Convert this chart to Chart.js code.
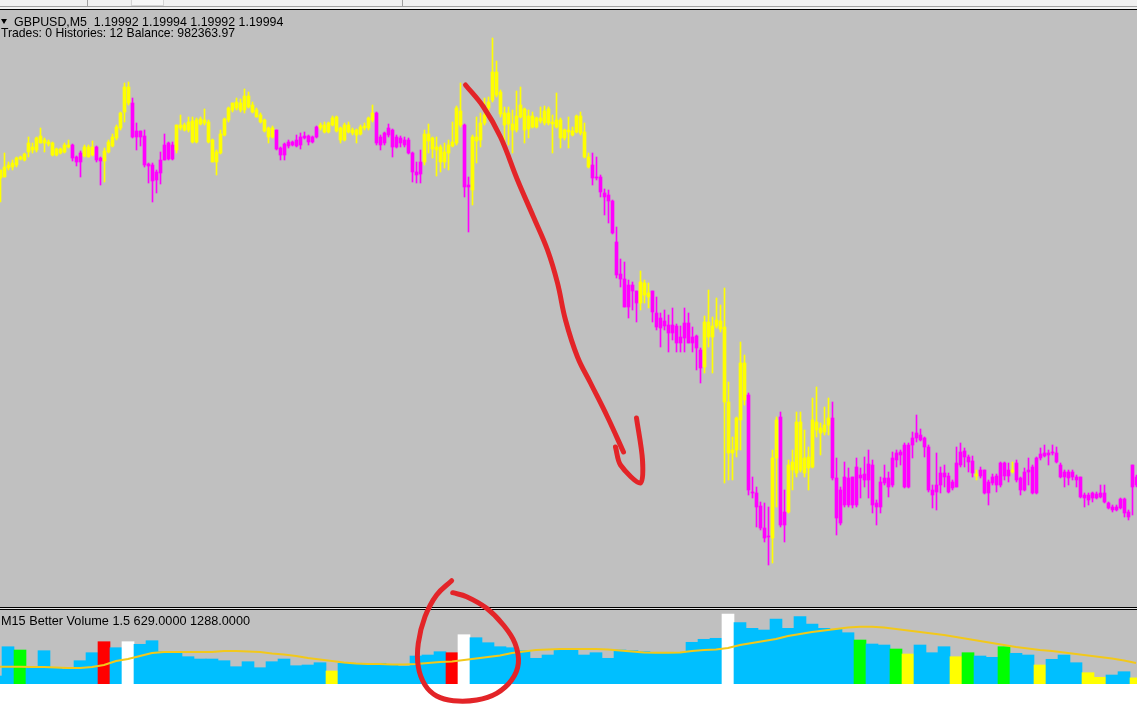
<!DOCTYPE html>
<html>
<head>
<meta charset="utf-8">
<script src="https://cdn.jsdelivr.net/npm/chart.js@4.4.1/dist/chart.umd.min.js"></script>
<style>
  body { margin: 0; width: 1137px; height: 707px; position: relative; overflow: hidden; background: #fff; }
  .abs { position: absolute; }
  .txt { position: absolute; font-family: "Liberation Sans", Arial, sans-serif; font-size: 12px; line-height: 12px; color: #000; white-space: pre; }
</style>
</head>
<body>
<!-- toolbar remnant -->
<div class="abs" style="left:0;top:0;width:1137px;height:10px;background:#f0f0f0"></div>
<div class="abs" style="left:0;top:6px;width:1137px;height:1px;background:#a0a0a0"></div>
<div class="abs" style="left:87px;top:0;width:1px;height:6px;background:#a0a0a0"></div>
<div class="abs" style="left:402px;top:0;width:1px;height:6px;background:#a0a0a0"></div>
<div class="abs" style="left:131px;top:0;width:31px;height:5px;border:1px solid #d4d4d4;border-top:0;background:#f6f6f6"></div>
<div class="abs" style="left:0;top:9px;width:1137px;height:1px;background:#000"></div>

<div class="abs" style="left:0;top:10px;width:1137px;height:597px;background:#c0c0c0"></div>
<div class="abs" style="left:0;top:607px;width:1137px;height:1px;background:#000"></div>
<div class="abs" style="left:0;top:608px;width:1137px;height:1px;background:#e4e4e4"></div>
<div class="abs" style="left:0;top:609px;width:1137px;height:1px;background:#000"></div>
<div class="abs" style="left:0;top:610px;width:1137px;height:74px;background:#c0c0c0"></div>

<canvas id="price" class="abs" width="1137" height="597" style="left:0;top:10px"></canvas>
<canvas id="vol" class="abs" width="1137" height="132" style="left:0;top:575px"></canvas>

<div class="abs" style="left:1px;top:19px;width:0;height:0;border-left:3px solid transparent;border-right:3px solid transparent;border-top:5px solid #000"></div>
<div class="txt" style="left:14px;top:16px;font-size:12.4px">GBPUSD,M5  1.19992 1.19994 1.19992 1.19994</div>
<div class="txt" style="left:1px;top:27px;font-size:12.2px">Trades: 0 Histories: 12 Balance: 982363.97</div>
<div class="txt" style="left:1px;top:615px;font-size:12.7px">M15 Better Volume 1.5 629.0000 1288.0000</div>

<script>
// GBPUSD M5 candles, index 0 = leftmost visible bar
const opens = [
  1.20604, 1.20606, 1.20624, 1.20626, 1.20630, 1.20642, 1.20640, 1.20656, 1.20660, 1.20660,
  1.20674, 1.20674, 1.20672, 1.20650, 1.20650, 1.20654, 1.20656, 1.20666, 1.20670, 1.20646,
  1.20654, 1.20648, 1.20646, 1.20650, 1.20666, 1.20644, 1.20638, 1.20656, 1.20668, 1.20684,
  1.20704, 1.20736, 1.20754, 1.20754, 1.20698, 1.20698, 1.20688, 1.20632, 1.20630, 1.20616,
  1.20640, 1.20670, 1.20674, 1.20670, 1.20660, 1.20704, 1.20700, 1.20700, 1.20676, 1.20676,
  1.20712, 1.20714, 1.20676, 1.20636, 1.20636, 1.20654, 1.20690, 1.20720, 1.20740, 1.20744,
  1.20740, 1.20740, 1.20746, 1.20736, 1.20726, 1.20716, 1.20698, 1.20686, 1.20686, 1.20700,
  1.20664, 1.20672, 1.20676, 1.20676, 1.20680, 1.20686, 1.20688, 1.20688, 1.20686, 1.20706,
  1.20704, 1.20696, 1.20696, 1.20710, 1.20698, 1.20680, 1.20680, 1.20696, 1.20694, 1.20690,
  1.20692, 1.20704, 1.20704, 1.20720, 1.20734, 1.20686, 1.20694, 1.20704, 1.20700, 1.20686,
  1.20684, 1.20680, 1.20680, 1.20654, 1.20616, 1.20636, 1.20636, 1.20678, 1.20662, 1.20660,
  1.20636, 1.20636, 1.20654, 1.20668, 1.20674, 1.20710, 1.20710, 1.20590, 1.20580, 1.20678,
  1.20680, 1.20714, 1.20744, 1.20760, 1.20770, 1.20732, 1.20710, 1.20712, 1.20700, 1.20700,
  1.20726, 1.20700, 1.20702, 1.20706, 1.20706, 1.20718, 1.20714, 1.20714, 1.20712, 1.20706,
  1.20684, 1.20684, 1.20696, 1.20690, 1.20696, 1.20694, 1.20646, 1.20626, 1.20630, 1.20606,
  1.20606, 1.20574, 1.20570, 1.20558, 1.20476, 1.20412, 1.20402, 1.20390, 1.20390, 1.20378,
  1.20354, 1.20370, 1.20366, 1.20378, 1.20334, 1.20324, 1.20318, 1.20310, 1.20310, 1.20308,
  1.20286, 1.20314, 1.20314, 1.20286, 1.20288, 1.20260, 1.20226, 1.20286, 1.20286, 1.20308,
  1.20302, 1.20156, 1.20054, 1.20054, 1.20060, 1.20120, 1.20160, 1.20170, 1.19976, 1.19974,
  1.19948, 1.19904, 1.19888, 1.19884, 1.20044, 1.20126, 1.19936, 1.19936, 1.20020, 1.20014,
  1.20020, 1.20014, 1.20024, 1.20026, 1.20100, 1.20094, 1.20096, 1.20110, 1.20124, 1.20004,
  1.19980, 1.20006, 1.20004, 1.20006, 1.20026, 1.20010, 1.20012, 1.20032, 1.20030, 1.19954,
  1.19996, 1.20004, 1.20004, 1.20044, 1.20054, 1.20056, 1.20070, 1.20070, 1.20084, 1.20094,
  1.20090, 1.20084, 1.20066, 1.19980, 1.19990, 1.20014, 1.20014, 1.20008, 1.19996, 1.20034,
  1.20056, 1.20058, 1.20046, 1.20038, 1.20008, 1.20020, 1.20020, 1.19996, 1.20006, 1.20008,
  1.20034, 1.20034, 1.20020, 1.20016, 1.20034, 1.20004, 1.20016, 1.20020, 1.20026, 1.20044,
  1.20052, 1.20054, 1.20054, 1.20056, 1.20054, 1.20030, 1.20016, 1.20016, 1.20016, 1.20006,
  1.20006, 1.19970, 1.19970, 1.19974, 1.19972, 1.19974, 1.19974, 1.19954, 1.19946, 1.19946,
  1.19962, 1.19962, 1.19936, 1.20030, 1.20006
];
const highs = [
  1.20620, 1.20654, 1.20636, 1.20640, 1.20646, 1.20648, 1.20654, 1.20686, 1.20674, 1.20686,
  1.20704, 1.20684, 1.20680, 1.20676, 1.20664, 1.20664, 1.20674, 1.20680, 1.20672, 1.20648,
  1.20658, 1.20670, 1.20670, 1.20678, 1.20668, 1.20646, 1.20664, 1.20680, 1.20692, 1.20710,
  1.20736, 1.20794, 1.20796, 1.20764, 1.20714, 1.20698, 1.20700, 1.20634, 1.20634, 1.20620,
  1.20656, 1.20692, 1.20676, 1.20676, 1.20710, 1.20730, 1.20714, 1.20726, 1.20726, 1.20724,
  1.20726, 1.20742, 1.20720, 1.20682, 1.20660, 1.20700, 1.20724, 1.20746, 1.20754, 1.20764,
  1.20762, 1.20782, 1.20776, 1.20756, 1.20744, 1.20734, 1.20722, 1.20706, 1.20708, 1.20700,
  1.20666, 1.20674, 1.20680, 1.20678, 1.20690, 1.20694, 1.20696, 1.20690, 1.20688, 1.20708,
  1.20714, 1.20716, 1.20716, 1.20728, 1.20728, 1.20706, 1.20714, 1.20716, 1.20704, 1.20702,
  1.20710, 1.20714, 1.20726, 1.20750, 1.20736, 1.20690, 1.20696, 1.20712, 1.20702, 1.20690,
  1.20688, 1.20686, 1.20684, 1.20656, 1.20636, 1.20660, 1.20700, 1.20712, 1.20686, 1.20686,
  1.20670, 1.20674, 1.20680, 1.20716, 1.20748, 1.20794, 1.20712, 1.20606, 1.20690, 1.20726,
  1.20734, 1.20764, 1.20766, 1.20884, 1.20838, 1.20780, 1.20746, 1.20746, 1.20740, 1.20778,
  1.20786, 1.20744, 1.20740, 1.20736, 1.20726, 1.20746, 1.20748, 1.20746, 1.20730, 1.20774,
  1.20724, 1.20702, 1.20726, 1.20706, 1.20730, 1.20736, 1.20714, 1.20654, 1.20654, 1.20646,
  1.20610, 1.20582, 1.20580, 1.20560, 1.20506, 1.20442, 1.20436, 1.20400, 1.20396, 1.20378,
  1.20418, 1.20400, 1.20394, 1.20378, 1.20366, 1.20334, 1.20340, 1.20330, 1.20344, 1.20312,
  1.20308, 1.20344, 1.20334, 1.20306, 1.20290, 1.20264, 1.20328, 1.20380, 1.20326, 1.20364,
  1.20350, 1.20384, 1.20196, 1.20086, 1.20126, 1.20276, 1.20250, 1.20174, 1.20006, 1.19986,
  1.19956, 1.19954, 1.19946, 1.20060, 1.20126, 1.20136, 1.19980, 1.20040, 1.20060, 1.20136,
  1.20136, 1.20100, 1.20066, 1.20164, 1.20186, 1.20114, 1.20146, 1.20164, 1.20156, 1.20044,
  1.19986, 1.20036, 1.20024, 1.20006, 1.20044, 1.20024, 1.20046, 1.20060, 1.20040, 1.19960,
  1.20006, 1.20030, 1.20016, 1.20056, 1.20060, 1.20060, 1.20074, 1.20074, 1.20096, 1.20130,
  1.20102, 1.20086, 1.20070, 1.19990, 1.20054, 1.20026, 1.20030, 1.20014, 1.20000, 1.20066,
  1.20074, 1.20064, 1.20050, 1.20048, 1.20020, 1.20026, 1.20020, 1.20000, 1.20012, 1.20012,
  1.20036, 1.20036, 1.20034, 1.20036, 1.20040, 1.20006, 1.20024, 1.20044, 1.20030, 1.20046,
  1.20064, 1.20070, 1.20060, 1.20070, 1.20066, 1.20034, 1.20020, 1.20020, 1.20020, 1.20010,
  1.20006, 1.19974, 1.19974, 1.19976, 1.19976, 1.19990, 1.19990, 1.19956, 1.19950, 1.19950,
  1.19964, 1.19964, 1.19940, 1.20030, 1.20010
];
const lows = [
  1.20556, 1.20606, 1.20620, 1.20620, 1.20626, 1.20640, 1.20638, 1.20646, 1.20654, 1.20656,
  1.20674, 1.20656, 1.20668, 1.20648, 1.20648, 1.20652, 1.20654, 1.20664, 1.20638, 1.20628,
  1.20606, 1.20646, 1.20646, 1.20648, 1.20636, 1.20590, 1.20596, 1.20654, 1.20666, 1.20680,
  1.20700, 1.20716, 1.20750, 1.20684, 1.20660, 1.20668, 1.20626, 1.20594, 1.20556, 1.20574,
  1.20592, 1.20640, 1.20640, 1.20640, 1.20654, 1.20700, 1.20698, 1.20696, 1.20674, 1.20674,
  1.20710, 1.20710, 1.20674, 1.20636, 1.20610, 1.20652, 1.20688, 1.20716, 1.20736, 1.20740,
  1.20736, 1.20734, 1.20744, 1.20734, 1.20726, 1.20714, 1.20696, 1.20674, 1.20684, 1.20660,
  1.20640, 1.20640, 1.20664, 1.20668, 1.20666, 1.20662, 1.20682, 1.20670, 1.20674, 1.20684,
  1.20700, 1.20694, 1.20694, 1.20708, 1.20696, 1.20674, 1.20678, 1.20694, 1.20690, 1.20674,
  1.20690, 1.20700, 1.20700, 1.20716, 1.20670, 1.20660, 1.20670, 1.20686, 1.20646, 1.20664,
  1.20666, 1.20666, 1.20652, 1.20596, 1.20594, 1.20594, 1.20630, 1.20654, 1.20644, 1.20608,
  1.20616, 1.20624, 1.20620, 1.20666, 1.20670, 1.20706, 1.20566, 1.20496, 1.20550, 1.20634,
  1.20666, 1.20710, 1.20730, 1.20756, 1.20766, 1.20726, 1.20670, 1.20670, 1.20654, 1.20696,
  1.20724, 1.20674, 1.20684, 1.20704, 1.20704, 1.20714, 1.20710, 1.20710, 1.20654, 1.20704,
  1.20664, 1.20680, 1.20664, 1.20688, 1.20694, 1.20690, 1.20644, 1.20624, 1.20590, 1.20600,
  1.20566, 1.20530, 1.20514, 1.20492, 1.20404, 1.20386, 1.20346, 1.20324, 1.20340, 1.20316,
  1.20340, 1.20354, 1.20344, 1.20316, 1.20300, 1.20266, 1.20300, 1.20256, 1.20280, 1.20256,
  1.20256, 1.20256, 1.20274, 1.20256, 1.20220, 1.20194, 1.20214, 1.20266, 1.20214, 1.20304,
  1.20296, 1.19994, 1.20000, 1.20000, 1.20046, 1.20060, 1.20150, 1.19970, 1.19964, 1.19906,
  1.19900, 1.19876, 1.19830, 1.19834, 1.19946, 1.19906, 1.19876, 1.19934, 1.19980, 1.20006,
  1.20016, 1.20006, 1.19980, 1.20024, 1.20086, 1.20050, 1.20090, 1.20090, 1.20000, 1.19890,
  1.19910, 1.19946, 1.19946, 1.19944, 1.19946, 1.19964, 1.19986, 1.19964, 1.19934, 1.19910,
  1.19934, 1.19990, 1.19966, 1.19986, 1.20026, 1.20030, 1.19984, 1.19984, 1.20044, 1.20076,
  1.20078, 1.20046, 1.19976, 1.19944, 1.19940, 1.19974, 1.19986, 1.19974, 1.19980, 1.19986,
  1.20026, 1.20026, 1.20016, 1.20006, 1.20000, 1.20004, 1.19972, 1.19950, 1.19990, 1.19976,
  1.19986, 1.20000, 1.19996, 1.20014, 1.19996, 1.19970, 1.19978, 1.19990, 1.19972, 1.19972,
  1.20040, 1.20046, 1.20030, 1.20050, 1.20034, 1.20004, 1.19986, 1.19990, 1.20000, 1.19986,
  1.19964, 1.19946, 1.19950, 1.19956, 1.19962, 1.19964, 1.19954, 1.19942, 1.19936, 1.19938,
  1.19942, 1.19926, 1.19920, 1.19930, 1.19986
];
const closes = [
  1.20620, 1.20626, 1.20630, 1.20634, 1.20644, 1.20646, 1.20652, 1.20674, 1.20666, 1.20684,
  1.20688, 1.20680, 1.20676, 1.20674, 1.20662, 1.20662, 1.20670, 1.20670, 1.20644, 1.20636,
  1.20636, 1.20666, 1.20666, 1.20666, 1.20640, 1.20638, 1.20658, 1.20676, 1.20686, 1.20706,
  1.20734, 1.20786, 1.20786, 1.20686, 1.20686, 1.20686, 1.20630, 1.20628, 1.20598, 1.20600,
  1.20614, 1.20640, 1.20642, 1.20642, 1.20710, 1.20710, 1.20710, 1.20716, 1.20718, 1.20720,
  1.20722, 1.20720, 1.20716, 1.20680, 1.20656, 1.20692, 1.20722, 1.20744, 1.20754, 1.20756,
  1.20754, 1.20768, 1.20768, 1.20750, 1.20740, 1.20730, 1.20720, 1.20704, 1.20704, 1.20662,
  1.20650, 1.20650, 1.20668, 1.20670, 1.20668, 1.20670, 1.20684, 1.20676, 1.20676, 1.20686,
  1.20710, 1.20710, 1.20714, 1.20724, 1.20726, 1.20704, 1.20710, 1.20710, 1.20700, 1.20700,
  1.20706, 1.20708, 1.20724, 1.20734, 1.20674, 1.20670, 1.20674, 1.20690, 1.20666, 1.20666,
  1.20674, 1.20670, 1.20654, 1.20616, 1.20610, 1.20612, 1.20692, 1.20692, 1.20684, 1.20666,
  1.20666, 1.20656, 1.20670, 1.20676, 1.20744, 1.20738, 1.20586, 1.20586, 1.20686, 1.20686,
  1.20714, 1.20730, 1.20756, 1.20816, 1.20816, 1.20776, 1.20734, 1.20734, 1.20712, 1.20728,
  1.20750, 1.20742, 1.20728, 1.20728, 1.20724, 1.20724, 1.20738, 1.20742, 1.20716, 1.20720,
  1.20720, 1.20700, 1.20700, 1.20698, 1.20728, 1.20728, 1.20696, 1.20646, 1.20604, 1.20604,
  1.20576, 1.20566, 1.20558, 1.20494, 1.20410, 1.20402, 1.20346, 1.20346, 1.20378, 1.20354,
  1.20396, 1.20394, 1.20374, 1.20336, 1.20306, 1.20304, 1.20308, 1.20294, 1.20294, 1.20274,
  1.20274, 1.20284, 1.20274, 1.20274, 1.20264, 1.20224, 1.20316, 1.20316, 1.20308, 1.20320,
  1.20318, 1.20306, 1.20156, 1.20060, 1.20124, 1.20234, 1.20234, 1.19980, 1.19974, 1.19946,
  1.19904, 1.19884, 1.19886, 1.20044, 1.20120, 1.19910, 1.19910, 1.20030, 1.20036, 1.20116,
  1.20116, 1.20044, 1.20046, 1.20120, 1.20116, 1.20104, 1.20110, 1.20124, 1.20004, 1.19924,
  1.19914, 1.19950, 1.19950, 1.19950, 1.19950, 1.20004, 1.20000, 1.20000, 1.19950, 1.19946,
  1.19946, 1.19994, 1.19986, 1.19990, 1.20040, 1.20050, 1.19986, 1.19986, 1.20070, 1.20084,
  1.20080, 1.20066, 1.19980, 1.19970, 1.19976, 1.19990, 1.20006, 1.19976, 1.19984, 1.19986,
  1.20030, 1.20046, 1.20036, 1.20014, 1.20012, 1.20008, 1.19974, 1.19974, 1.19994, 1.19990,
  1.19990, 1.20008, 1.20008, 1.20020, 1.20000, 1.19980, 1.19980, 1.20016, 1.19974, 1.19974,
  1.20044, 1.20048, 1.20050, 1.20054, 1.20036, 1.20006, 1.20006, 1.20004, 1.20006, 1.20000,
  1.19966, 1.19964, 1.19960, 1.19964, 1.19964, 1.19966, 1.19956, 1.19944, 1.19940, 1.19940,
  1.19944, 1.19934, 1.19926, 1.19986, 1.19990
];

// M15 Better Volume, one value per M15 bar (3 candles), first bar partly off screen
const volFirstBar = -1;
const volume = [
  712, 2000, 1856, 1077, 1825, 1064, 1020, 1385, 1737, 2221,
  1957, 2221, 2107, 2265, 1781, 1711, 1561, 1460, 1460, 1385,
  1121, 1341, 1077, 1341, 1460, 1165, 1196, 1297, 932, 1271,
  1271, 1227, 1271, 1196, 1152, 1592, 1636, 1781, 1737, 2529,
  2397, 2177, 2001, 1957, 1825, 1491, 1636, 1856, 1900, 1636,
  1737, 1491, 1856, 1825, 1781, 1755, 1755, 1737, 2195, 2327,
  2371, 3440, 3057, 2811, 2736, 3220, 2811, 3321, 3000, 2811,
  2767, 2617, 2296, 2120, 2076, 1900, 1680, 2076, 1737, 2001,
  1561, 1737, 1592, 1535, 2001, 1711, 1636, 1196, 1447, 1636,
  1297, 857, 655, 756, 901, 629
];
// N normal, G churn, R climax up, W climax down, Y low volume
const volKind = [
  'N', 'N', 'G', 'N', 'N', 'N', 'N', 'N', 'N', 'R',
  'N', 'W', 'N', 'N', 'N', 'N', 'N', 'N', 'N', 'N',
  'N', 'N', 'N', 'N', 'N', 'N', 'N', 'N', 'Y', 'N',
  'N', 'N', 'N', 'N', 'N', 'N', 'N', 'N', 'R', 'W',
  'N', 'N', 'N', 'N', 'N', 'N', 'N', 'N', 'N', 'N',
  'N', 'N', 'N', 'N', 'N', 'N', 'N', 'N', 'N', 'N',
  'N', 'W', 'N', 'N', 'N', 'N', 'N', 'N', 'N', 'N',
  'N', 'N', 'G', 'N', 'N', 'G', 'Y', 'N', 'N', 'N',
  'Y', 'G', 'N', 'N', 'G', 'N', 'N', 'Y', 'N', 'N',
  'N', 'Y', 'Y', 'N', 'N', 'Y'
];
const volAverage = [
  1121, 1121, 1121, 1108, 1108, 1086, 1064, 1064, 1108, 1196,
  1372, 1460, 1592, 1724, 1768, 1768, 1768, 1768, 1768, 1812,
  1812, 1790, 1768, 1702, 1658, 1592, 1504, 1438, 1372, 1306,
  1262, 1240, 1240, 1218, 1218, 1240, 1284, 1328, 1350, 1416,
  1482, 1548, 1614, 1724, 1790, 1856, 1878, 1900, 1900, 1900,
  1900, 1878, 1834, 1790, 1746, 1737, 1737, 1746, 1812, 1856,
  1878, 1944, 2076, 2164, 2252, 2340, 2472, 2560, 2648, 2714,
  2780, 2846, 2881, 2881, 2846, 2780, 2714, 2648, 2582, 2516,
  2428, 2340, 2252, 2164, 2076, 1988, 1922, 1856, 1812, 1746,
  1680, 1614, 1548, 1482, 1394, 1288
];

// hand-drawn marks: arrow in (candle, price), loop in (volume bar, volume)
const arrowX = [116.25, 120.75, 125, 129.25, 133.25, 136.75, 139.25, 141.25, 144.25, 147.5, 151.75, 155.75];
const arrowY = [1.20790, 1.20746, 1.20686, 1.20600, 1.20526, 1.20460, 1.20394, 1.20320, 1.20246, 1.20194, 1.20126, 1.20056];
const headX = [153.75, 155, 160, 160.5, 159];
const headY = [1.20066, 1.20030, 1.19994, 1.20040, 1.20124];
const loopX = [36.97, 35.72, 34.75, 34.19, 34.19, 34.75, 35.72, 37.11, 39.06, 40.72, 41.97, 42.53, 42.25, 41.28, 39.89, 38.22, 37.06];
const loopY = [4905, 4276, 3321, 2151, 1121, 316, -168, -375, -344, -49, 536, 1271, 2151, 2956, 3691, 4201, 4377];

const BULL = '#FFFF00';
const BEAR = '#FF00FF';
const PEN = '#E32428';
const kindColor = { N: '#00BFFF', G: '#00FF00', R: '#FF0000', W: '#FFFFFF', Y: '#FFFF00' };

const candleColors = opens.map((o, i) => (closes[i] >= o ? BULL : BEAR));

function penLine(xs, ys, tension) {
  return {
    type: 'line',
    data: xs.map((x, i) => ({ x: x, y: ys[i] })),
    borderColor: PEN,
    borderWidth: 5,
    borderCapStyle: 'round',
    borderJoinStyle: 'round',
    pointRadius: 0,
    tension: tension,
    capBezierPoints: false,
    clip: false,
    order: 0,
  };
}

const hidden = { legend: { display: false }, tooltip: { enabled: false } };

new Chart(document.getElementById('price'), {
  type: 'bar',
  data: {
    datasets: [
      penLine(arrowX, arrowY, 0.4),
      penLine(headX, headY, 0.3),
      {
        data: opens.map((o, i) => ({ x: i, y: [o, closes[i]] })),
        backgroundColor: candleColors,
        barThickness: 3,
        minBarLength: 1,
        grouped: false,
        order: 1,
      },
      {
        data: lows.map((l, i) => ({ x: i, y: [l, highs[i]] })),
        backgroundColor: candleColors,
        barThickness: 1,
        grouped: false,
        order: 2,
      },
    ],
  },
  options: {
    responsive: false,
    animation: false,
    layout: { padding: 0 },
    plugins: hidden,
    scales: {
      x: { type: 'linear', display: false, offset: false, min: -0.125, max: 284.125 },
      y: { display: false, min: 1.19746, max: 1.20940 },
    },
  },
});

new Chart(document.getElementById('vol'), {
  type: 'bar',
  data: {
    datasets: [
      penLine(loopX, loopY, 0.4),
      {
        type: 'line',
        data: volAverage.map((v, i) => ({ x: i + volFirstBar, y: v })),
        borderColor: '#F2C81A',
        borderWidth: 2,
        pointRadius: 0,
        tension: 0,
        order: 1,
      },
      {
        data: volume.map((v, i) => ({ x: i + volFirstBar, y: v })),
        backgroundColor: volKind.map((k) => kindColor[k]),
        barThickness: 12,
        grouped: false,
        order: 2,
      },
    ],
  },
  options: {
    responsive: false,
    animation: false,
    layout: { padding: { top: 35, bottom: 23, left: 0, right: 0 } },
    plugins: hidden,
    scales: {
      x: { type: 'linear', display: false, offset: false, min: -0.6667, max: 94.0833 },
      y: { display: false, min: 360, max: 3616 },
    },
  },
});
</script>
</body>
</html>
